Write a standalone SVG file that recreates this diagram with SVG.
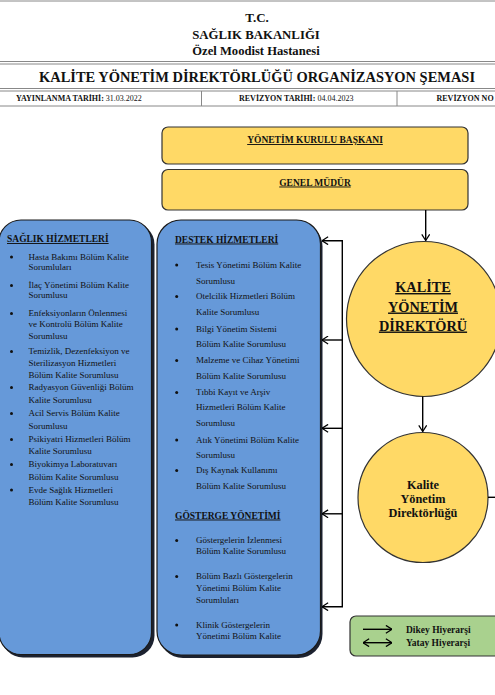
<svg xmlns="http://www.w3.org/2000/svg" width="495" height="695" viewBox="0 0 495 695" font-family="'Liberation Serif', 'Times New Roman', serif">
<defs>
<marker id="ah" viewBox="0 0 8 10" refX="7.5" refY="5" markerWidth="7" markerHeight="9" markerUnits="userSpaceOnUse" orient="auto-start-reverse">
<path d="M0.5,0.5 L7.5,5 L0.5,9.5" fill="none" stroke="#000" stroke-width="1.4"/>
</marker>
<style>
text{font-family:"Liberation Serif","Times New Roman",serif;fill:#111}
.hd{font-weight:bold;text-anchor:middle}
.sm{font-size:8px}
.it{font-size:9px}
.sec{font-size:9.5px;font-weight:bold;text-decoration:underline}
.box-y{fill:#FFD966;stroke:#333;stroke-width:1.2}
.box-b{fill:#6699D9;stroke:#1a1a1a;stroke-width:1.2}
.shadow{fill:#1c2230}
.circ{fill:#FFD966;stroke:#333;stroke-width:1.2}
.conn{stroke:#000;stroke-width:1.4;fill:none}
.rule{stroke:#888;stroke-width:1}
</style>
</defs>
<rect width="495" height="695" fill="#fff"/>

<g id="header">
<line class="rule" x1="0" y1="1" x2="495" y2="1"/>
<text class="hd" x="257" y="22" font-size="13">T.C.</text>
<text class="hd" x="256" y="39" font-size="12.8">SAĞLIK BAKANLIĞI</text>
<text class="hd" x="256" y="55" font-size="12.6">Özel Moodist Hastanesi</text>
<line class="rule" x1="0" y1="61.5" x2="495" y2="61.5"/>
<line class="rule" x1="0" y1="64" x2="495" y2="64"/>
<text class="hd" x="257" y="82" font-size="14.4" textLength="436" lengthAdjust="spacingAndGlyphs">KALİTE YÖNETİM DİREKTÖRLÜĞÜ ORGANİZASYON ŞEMASI</text>
<line class="rule" x1="0" y1="88.5" x2="495" y2="88.5"/>
<line class="rule" x1="0" y1="91" x2="495" y2="91"/>
<line class="rule" x1="0" y1="106" x2="495" y2="106"/>
<line class="rule" x1="201.5" y1="91" x2="201.5" y2="106"/>
<line class="rule" x1="397" y1="91" x2="397" y2="106"/>
<text class="sm" x="16" y="101"><tspan font-weight="bold">YAYINLANMA TARİHİ:</tspan> 31.03.2022</text>
<text class="sm" x="239" y="101"><tspan font-weight="bold">REVİZYON TARİHİ:</tspan> 04.04.2023</text>
<text class="sm" x="436.5" y="101" font-weight="bold">REVİZYON NO</text>
</g>

<g id="yonetim-kurulu">
<rect class="box-y" x="162" y="127" width="306" height="37" rx="6"/>
<text class="hd" x="315" y="143" font-size="9.5" text-decoration="underline">YÖNETİM KURULU BAŞKANI</text>
</g>

<g id="genel-mudur">
<rect class="box-y" x="162" y="169.5" width="306" height="40.5" rx="6"/>
<text class="hd" x="315" y="185.5" font-size="9.5" text-decoration="underline">GENEL MÜDÜR</text>
</g>

<g id="kalite-yonetim-direktoru">
<circle class="circ" cx="424" cy="319" r="77.5"/>
<text class="hd" font-size="14.3" text-decoration="underline"><tspan x="423" y="292">KALİTE</tspan><tspan x="423" y="311.5">YÖNETİM</tspan><tspan x="423" y="330.5">DİREKTÖRÜ</tspan></text>
</g>

<g id="kalite-yonetim-direktorlugu">
<circle class="circ" cx="423" cy="497.5" r="65"/>
<text class="hd" font-size="12.3"><tspan x="423" y="488.5">Kalite</tspan><tspan x="423" y="503">Yönetim</tspan><tspan x="423" y="517">Direktörlüğü</tspan></text>
</g>

<g id="saglik-hizmetleri">
<rect class="shadow" x="1" y="222.5" width="153.5" height="435" rx="22"/>
<rect class="box-b" x="-1" y="220" width="152.5" height="434.5" rx="22"/>
<text class="sec" x="7" y="242">SAĞLIK HİZMETLERİ</text>
<g fill="#111">
<circle cx="11.5" cy="257" r="1.5"/><circle cx="11.5" cy="285.5" r="1.5"/><circle cx="11.5" cy="313.5" r="1.5"/><circle cx="11.5" cy="351.5" r="1.5"/><circle cx="11.5" cy="387.5" r="1.5"/><circle cx="11.5" cy="413.5" r="1.5"/><circle cx="11.5" cy="439.5" r="1.5"/><circle cx="11.5" cy="464.5" r="1.5"/><circle cx="11.5" cy="490" r="1.5"/>
</g>
<text class="it">
<tspan x="28.5" y="259.5">Hasta Bakımı Bölüm Kalite</tspan>
<tspan x="28.5" y="269.5">Sorumluları</tspan>
<tspan x="28.5" y="288">İlaç Yönetimi Bölüm Kalite</tspan>
<tspan x="28.5" y="298">Sorumlusu</tspan>
<tspan x="28.5" y="316">Enfeksiyonların Önlenmesi</tspan>
<tspan x="28.5" y="327">ve Kontrolü Bölüm Kalite</tspan>
<tspan x="28.5" y="339">Sorumlusu</tspan>
<tspan x="28.5" y="354">Temizlik, Dezenfeksiyon ve</tspan>
<tspan x="28.5" y="366">Sterilizasyon Hizmetleri</tspan>
<tspan x="28.5" y="377.5">Bölüm Kalite Sorumlusu</tspan>
<tspan x="28.5" y="390">Radyasyon Güvenliği Bölüm</tspan>
<tspan x="28.5" y="403">Kalite Sorumlusu</tspan>
<tspan x="28.5" y="416">Acil Servis Bölüm Kalite</tspan>
<tspan x="28.5" y="428.5">Sorumlusu</tspan>
<tspan x="28.5" y="442">Psikiyatri Hizmetleri Bölüm</tspan>
<tspan x="28.5" y="454">Kalite Sorumlusu</tspan>
<tspan x="28.5" y="467">Biyokimya Laboratuvarı</tspan>
<tspan x="28.5" y="480">Bölüm Kalite Sorumlusu</tspan>
<tspan x="28.5" y="492.5">Evde Sağlık Hizmetleri</tspan>
<tspan x="28.5" y="505">Bölüm Kalite Sorumlusu</tspan>
</text>
</g>

<g id="destek-hizmetleri">
<rect class="shadow" x="159" y="222.5" width="163.5" height="435.5" rx="24"/>
<rect class="box-b" x="157" y="220" width="163.5" height="435" rx="24"/>
<text class="sec" x="175" y="242.5">DESTEK HİZMETLERİ</text>
<text class="sec" x="175" y="518.5">GÖSTERGE YÖNETİMİ</text>
<g fill="#111">
<circle cx="176.7" cy="265" r="1.5"/><circle cx="176.7" cy="296.5" r="1.5"/><circle cx="176.7" cy="329" r="1.5"/><circle cx="176.7" cy="360.5" r="1.5"/><circle cx="176.7" cy="392.5" r="1.5"/><circle cx="176.7" cy="440" r="1.5"/><circle cx="176.7" cy="470.5" r="1.5"/><circle cx="176.7" cy="540.5" r="1.5"/><circle cx="176.7" cy="576.5" r="1.5"/><circle cx="176.7" cy="625" r="1.5"/>
</g>
<text class="it">
<tspan x="196" y="267.5">Tesis Yönetimi Bölüm Kalite</tspan>
<tspan x="196" y="283.5">Sorumlusu</tspan>
<tspan x="196" y="299">Otelcilik Hizmetleri Bölüm</tspan>
<tspan x="196" y="315">Kalite Sorumlusu</tspan>
<tspan x="196" y="331.5">Bilgi Yönetim Sistemi</tspan>
<tspan x="196" y="347">Bölüm Kalite Sorumlusu</tspan>
<tspan x="196" y="363">Malzeme ve Cihaz Yönetimi</tspan>
<tspan x="196" y="378.5">Bölüm Kalite Sorumlusu</tspan>
<tspan x="196" y="395">Tıbbi Kayıt ve Arşiv</tspan>
<tspan x="196" y="410">Hizmetleri Bölüm Kalite</tspan>
<tspan x="196" y="426">Sorumlusu</tspan>
<tspan x="196" y="442.5">Atık Yönetimi Bölüm Kalite</tspan>
<tspan x="196" y="457.5">Sorumlusu</tspan>
<tspan x="196" y="473">Dış Kaynak Kullanımı</tspan>
<tspan x="196" y="489">Bölüm Kalite Sorumlusu</tspan>
<tspan x="196" y="543">Göstergelerin İzlenmesi</tspan>
<tspan x="196" y="554">Bölüm Kalite Sorumlusu</tspan>
<tspan x="196" y="579">Bölüm Bazlı Göstergelerin</tspan>
<tspan x="196" y="591">Yönetimi Bölüm Kalite</tspan>
<tspan x="196" y="602.5">Sorumluları</tspan>
<tspan x="196" y="627.5">Klinik Göstergelerin</tspan>
<tspan x="196" y="639">Yönetimi Bölüm Kalite</tspan>
</text>
</g>

<g id="legend">
<rect x="350" y="616" width="160" height="40" rx="6" fill="#A9D18E" stroke="#333" stroke-width="1.2"/>
<line class="conn" x1="363" y1="629.3" x2="392" y2="629.3" marker-end="url(#ah)"/>
<line class="conn" x1="363" y1="642.7" x2="392" y2="642.7" marker-start="url(#ah)" marker-end="url(#ah)"/>
<text font-size="9.5" font-weight="bold"><tspan x="406" y="632.5">Dikey Hiyerarşi</tspan><tspan x="406" y="646">Yatay Hiyerarşi</tspan></text>
</g>

<g id="connectors">
<line class="conn" x1="425.7" y1="210" x2="425.7" y2="240.5" marker-end="url(#ah)"/>
<line class="conn" x1="422.7" y1="396.5" x2="422.7" y2="431.5" marker-end="url(#ah)"/>
<line class="conn" x1="488" y1="497.3" x2="495" y2="497.3"/>
<polyline class="conn" points="322,240.7 342.3,240.7 342.3,606.7 322,606.7" marker-start="url(#ah)" marker-end="url(#ah)"/>
<line class="conn" x1="342.3" y1="340" x2="322" y2="340" marker-end="url(#ah)"/>
<line class="conn" x1="342.3" y1="428.3" x2="322" y2="428.3" marker-end="url(#ah)"/>
<line class="conn" x1="342.3" y1="513.8" x2="322" y2="513.8" marker-end="url(#ah)"/>
</g>
</svg>
